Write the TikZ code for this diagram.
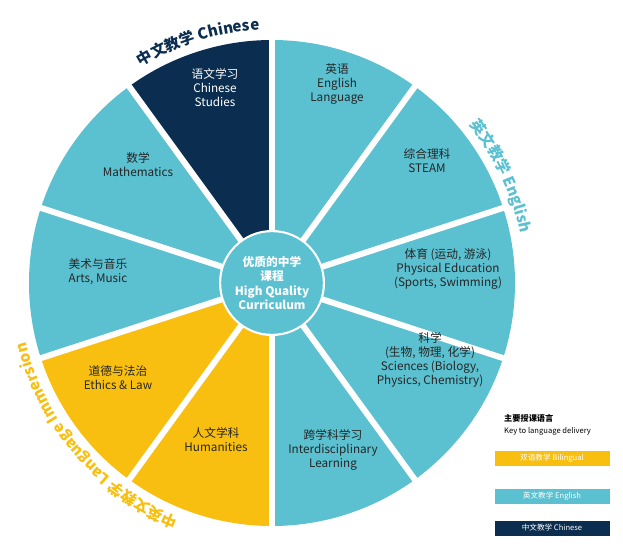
\documentclass[tikz,border=0pt]{standalone}
\usepackage{fontspec}
\setmainfont{Noto Sans CJK SC}
\usetikzlibrary{decorations.text}
\definecolor{teal}{HTML}{5BC0D0}
\definecolor{navy}{HTML}{0B2D4F}
\definecolor{gold}{HTML}{F9BF10}
\tikzset{
	subject/.style={align=center, font=\fontsize{10}{12}\selectfont, text=black!85},
	keybar/.style={minimum width=3.45cm, minimum height=0.45cm, inner sep=0pt, text=white, font=\fontsize{6.5}{7}\selectfont},
	ringtext/.style={decorate, decoration={text along path, text align=center, text color=#1}},
}
\begin{document}
\begin{tikzpicture}[x=0.03cm, y=0.03cm]
			\path[use as bounding box] (0,0) rectangle (623,549);
			\coordinate (C) at (272,266);
			% sectors
			\foreach \a/\col in {54/teal, 90/navy, 126/teal, 162/teal, 198/gold, 234/gold, 270/teal, 306/teal, 342/teal, 18/teal}{
				\fill[\col, shift={(C)}] (\a:52) -- (\a:243) arc[start angle=\a, delta angle=36, radius=243] -- ({\a+36}:52) arc[start angle=\a+36, delta angle=-36, radius=52] -- cycle;
			}
			\foreach \a in {18,54,...,342}{
				\draw[white, line width=1.8mm, shift={(C)}] (0,0) -- (\a:260);
			}
			\fill[white] (C) circle (53);
			\node[circle, fill=teal, minimum size=2.7cm, align=center, text=white, font=\fontsize{10}{12}\bfseries\selectfont] (hub) at (C) {优质的中学\\课程\\High Quality\\Curriculum};
			% subject labels
			\node[subject] (eng) at (337,465) {英语\\English\\Language};
			\node[subject] (steam) at (427,388) {综合理科\\STEAM};
			\node[subject] (pe) at (448,280) {体育 (运动, 游泳)\\Physical Education\\(Sports, Swimming)};
			\node[subject] (sci) at (430,189) {科学\\(生物, 物理, 化学)\\Sciences (Biology,\\Physics, Chemistry)};
			\node[subject] (inter) at (333,99) {跨学科学习\\Interdisciplinary\\Learning};
			\node[subject] (hum) at (216,109) {人文学科\\Humanities};
			\node[subject] (eth) at (118,171) {道德与法治\\Ethics \& Law};
			\node[subject] (arts) at (98,277) {美术与音乐\\Arts, Music};
			\node[subject] (math) at (138,384) {数学\\Mathematics};
			\node[subject, text=white] (chs) at (215,461) {语文学习\\Chinese\\Studies};
			% curved group labels
			\path[ringtext=navy, decoration={text={|\fontsize{13}{13}\bfseries\selectfont|中文教学 Chinese}}, shift={(C)}] (126:253) arc[start angle=126, end angle=88, radius=253];
			\path[ringtext=teal, decoration={text={|\fontsize{13}{13}\bfseries\selectfont|英文教学 English}}, shift={(C)}] (50:253) arc[start angle=50, end angle=0, radius=253];
			\path[ringtext=gold, decoration={text={|\fontsize{13}{13}\bfseries\selectfont|中英文教学 Language Immersion}}, shift={(C)}] (262:253) arc[start angle=262, end angle=180, radius=253];
			% key
			\node[anchor=west, font=\fontsize{7}{8}\bfseries\selectfont] (keyzh) at (500,131) {主要授课语言};
			\node[anchor=west, font=\fontsize{6.5}{8}\selectfont] (keyen) at (500,118) {Key to language delivery};
			\node[keybar, fill=gold] (kbi) at (552,91) {双语教学 Bilingual};
			\node[keybar, fill=teal] (ken) at (552,53) {英文教学 English};
			\node[keybar, fill=navy] (kzh) at (552,21) {中文教学 Chinese};
		\end{tikzpicture}
\end{document}
